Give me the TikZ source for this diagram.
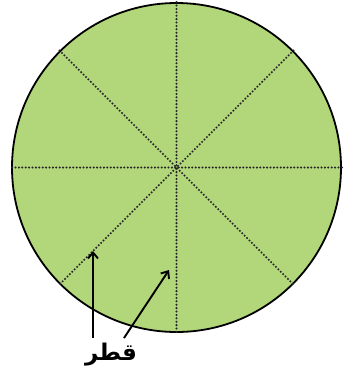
\documentclass[tikz,border=0pt]{standalone}
\usepackage{fontspec}
\newfontfamily\arabicfont[Script=Arabic]{DejaVu Sans}
\TeXXeTstate=1
\usetikzlibrary{arrows.meta}
\definecolor{leaf}{RGB}{178,214,122}
\tikzset{
  dia/.style={line width=2.3pt, line cap=round, dash pattern=on 0pt off 3.4pt, black!85},
  pointer/.style={line width=1.9pt, -{Straight Barb[length=6pt,width=10pt,line width=1.9pt]}},
}
\begin{document}
\begin{tikzpicture}[x=1pt,y=-1pt]
\useasboundingbox (0,0) rectangle (346,376);
\node[circle, draw, fill=leaf, line width=1.8pt, minimum size=329pt, inner sep=0pt] (c) at (176.5,167.5) {};
\draw[dia] (c.0) -- (c.180);
\draw[dia] (c.90) -- (c.270);
\draw[dia] (c.45) -- (c.225);
\draw[dia] (c.135) -- (c.315);
\coordinate (s1) at (93,338);
\coordinate (e1) at (93,251);
\coordinate (s2) at (124,338);
\coordinate (e2) at (169,270);
\draw[pointer] (s1) -- (e1);
\draw[pointer] (s2) -- (e2);
\node[font=\arabicfont\bfseries\fontsize{23}{27}\selectfont, inner sep=0pt] (t) at (111,355) {\beginR قطر\endR};
\end{tikzpicture}
\end{document}
